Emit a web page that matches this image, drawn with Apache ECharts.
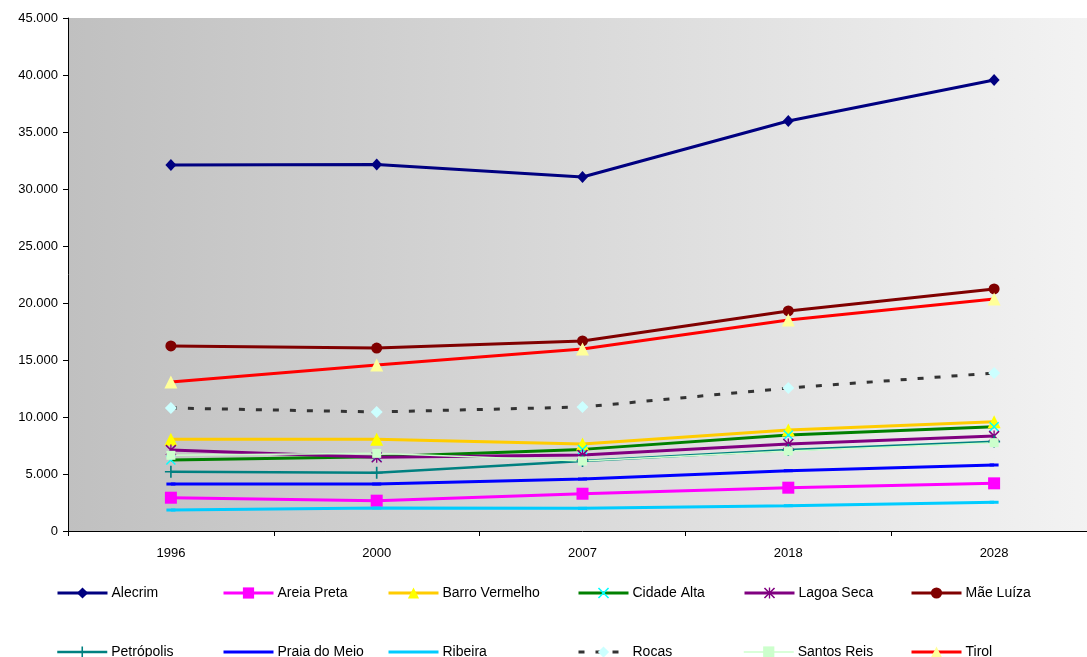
<!DOCTYPE html>
<html>
<head>
<meta charset="utf-8">
<script src="https://cdn.jsdelivr.net/npm/echarts@6/dist/echarts.min.js"></script>
<style>
  html, body { margin: 0; padding: 0; background: #ffffff; overflow: hidden; }
  /* plot area runs a little past the right edge of the window */
  #chart { width: 1097px; height: 657px; }
</style>
</head>
<body>
<div id="chart"></div>
<script>
// Population by neighbourhood, per year
const years = ['1996', '2000', '2007', '2018', '2028'];

const alecrim       = [32100, 32150, 31050, 35970, 39560];
const areiaPreta    = [2920, 2660, 3270, 3800, 4180];
const barroVermelho = [8040, 8050, 7630, 8860, 9590];
const cidadeAlta    = [6230, 6520, 7160, 8420, 9150];
const lagoaSeca     = [7100, 6460, 6670, 7630, 8330];
const maeLuiza      = [16230, 16050, 16670, 19300, 21230];
const petropolis    = [5200, 5120, 6140, 7100, 7840];
const praiaDoMeio   = [4120, 4120, 4560, 5290, 5790];
const ribeira       = [1840, 2020, 1990, 2220, 2520];
const rocas         = [10790, 10440, 10880, 12540, 13860];
const santosReis    = [6640, 6810, 6140, 7020, 7750];
const tirol         = [13070, 14560, 15960, 18510, 20350];

const yTicks = { min: 0, max: 45000, interval: 5000 };

// marker shapes
const xMark = 'path://M0,1 L1,0 L5,4 L9,0 L10,1 L6,5 L10,9 L9,10 L5,6 L1,10 L0,9 L4,5 Z';
const plusMark = 'path://M4.3,0 H5.7 V4.3 H10 V5.7 H5.7 V10 H4.3 V5.7 H0 V4.3 H4.3 Z';
const starMark = 'path://M0,1 L1,0 L5,4 L9,0 L10,1 L6,5 L10,9 L9,10 L5,6 L1,10 L0,9 L4,5 Z M4.4,0 H5.6 V10 H4.4 Z';
const dashMark = 'path://M0,0 H10 V3 H0 Z';

function line(name, data, lineColor, symbol, symbolSize, markColor, extra) {
  const s = {
    name: name,
    type: 'line',
    data: data,
    symbol: symbol,
    symbolSize: symbolSize,
    showSymbol: true,
    lineStyle: { color: lineColor, width: 3 },
    itemStyle: { color: markColor, borderWidth: 0 },
    emphasis: { disabled: true },
    animation: false
  };
  if (extra) Object.assign(s.lineStyle, extra);
  return s;
}

const series = [
  line('Alecrim', alecrim, '#000080', 'diamond', [11, 12], '#000080'),
  line('Areia Preta', areiaPreta, '#FF00FF', 'rect', 12, '#FF00FF'),
  line('Barro Vermelho', barroVermelho, '#FFCC00', 'triangle', 13, '#FFFF00'),
  line('Cidade Alta', cidadeAlta, '#008000', xMark, 10, '#00FFFF'),
  line('Lagoa Seca', lagoaSeca, '#800080', starMark, 11, '#800080'),
  line('Mãe Luíza', maeLuiza, '#800000', 'circle', 11, '#800000'),
  line('Petrópolis', petropolis, '#008080', plusMark, 12, '#008080', { width: 2.5 }),
  line('Praia do Meio', praiaDoMeio, '#0000FF', dashMark, [9, 3], '#0000FF'),
  line('Ribeira', ribeira, '#00CCFF', dashMark, [9, 3], '#00CCFF'),
  line('Rocas', rocas, '#333333', 'diamond', [12, 12], '#CCFFFF', { type: [6, 11] }),
  line('Santos Reis', santosReis, '#CCFFCC', 'rect', 9, '#CCFFCC', { width: 1.5 }),
  line('Tirol', tirol, '#FF0000', 'triangle', 13, '#FFFF99')
];

// series whose flat dash marker disappears into the line in the legend
const plainLegend = ['Praia do Meio', 'Ribeira'];

// legend laid out as a 6-column, 2-row table: one legend per cell
const colLeft = [56, 222, 387, 577, 743, 910];
const rowTop = [586, 645];
const legends = series.map((s, i) => {
  const item = { name: s.name, lineStyle: { width: s.lineStyle.width } };
  if (plainLegend.includes(s.name)) item.itemStyle = { opacity: 0 };
  return {
    left: colLeft[i % 6],
    top: rowTop[Math.floor(i / 6)],
    itemWidth: 50,
    itemHeight: 14,
    itemGap: 0,
    padding: 0,
    data: [item],
    textStyle: { fontFamily: 'Liberation Sans, Arial, sans-serif', fontSize: 14, color: '#000', padding: [0, 0, 0, -1] },
    selectedMode: false
  };
});

const fmt = v => String(v).replace(/\B(?=(\d{3})+(?!\d))/g, '.');

const chart = echarts.init(document.getElementById('chart'), null, { renderer: 'canvas' });
chart.setOption({
  backgroundColor: '#ffffff',
  animation: false,
  legend: legends,
  grid: {
    left: 68, top: 18, right: 0, bottom: 126,
    show: true,
    borderWidth: 0,
    backgroundColor: new echarts.graphic.LinearGradient(0, 0, 1, 0, [
      { offset: 0, color: '#c0c0c0' },
      { offset: 1, color: '#f3f3f3' }
    ])
  },
  xAxis: {
    type: 'category',
    data: years,
    boundaryGap: true,
    axisLine: { lineStyle: { color: '#000', width: 1 } },
    axisTick: { show: true, length: 5, lineStyle: { color: '#000' } },
    axisLabel: { color: '#000', fontFamily: 'Liberation Sans, Arial, sans-serif', fontSize: 13, margin: 16 },
    splitLine: { show: false }
  },
  yAxis: {
    type: 'value',
    min: yTicks.min, max: yTicks.max, interval: yTicks.interval,
    axisLine: { show: true, lineStyle: { color: '#000', width: 1 } },
    axisTick: { show: true, length: 5, lineStyle: { color: '#000' } },
    axisLabel: { color: '#000', fontFamily: 'Liberation Sans, Arial, sans-serif', fontSize: 13, margin: 10, formatter: fmt },
    splitLine: { show: false }
  },
  series: series
});
</script>
</body>
</html>
